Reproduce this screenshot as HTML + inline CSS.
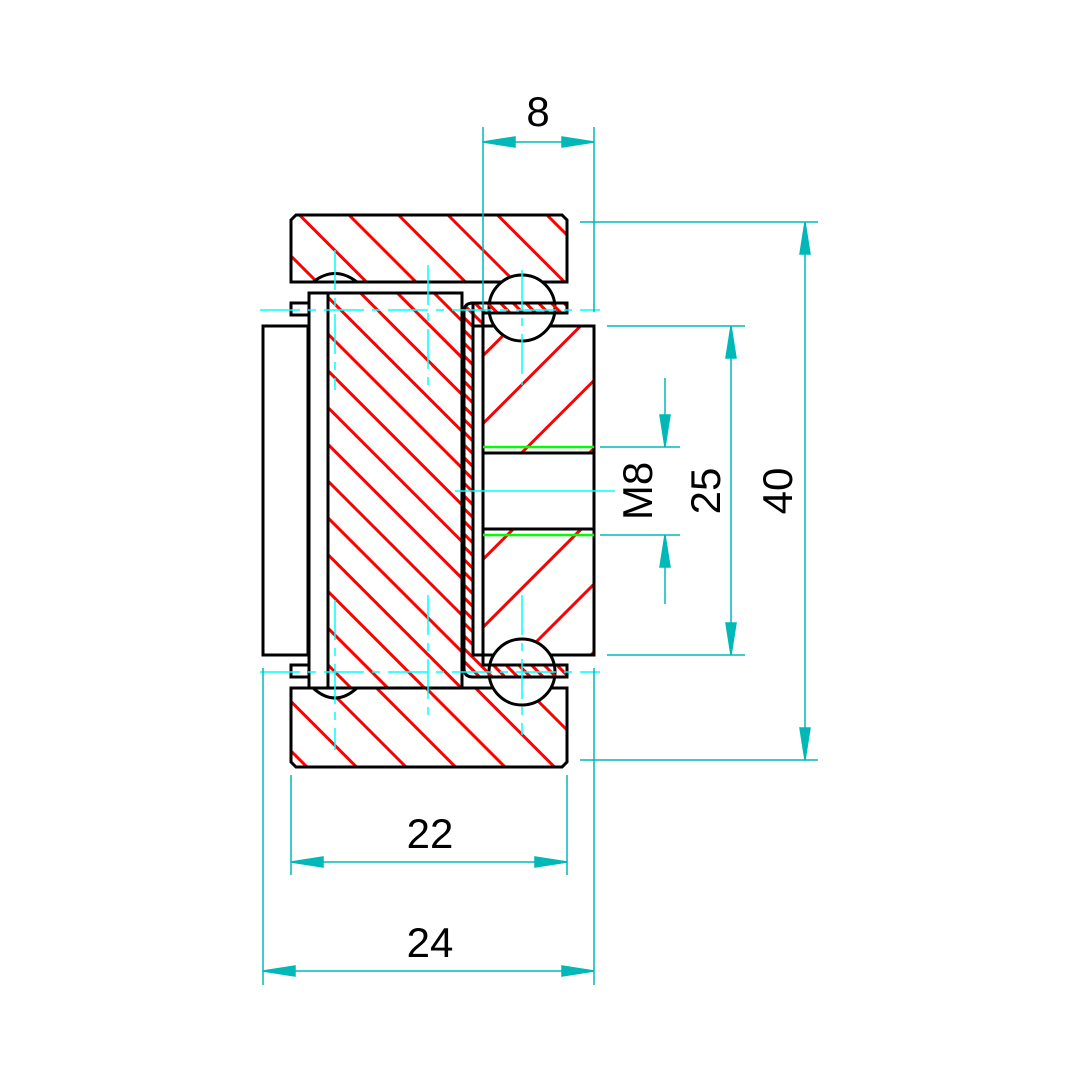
<!DOCTYPE html>
<html><head><style>body{margin:0;background:#fff}svg{display:block}</style></head><body>
<svg width="1080" height="1080" viewBox="0 0 1080 1080" xmlns="http://www.w3.org/2000/svg" font-family="Liberation Sans, sans-serif">
<defs>
<pattern id="hA" patternUnits="userSpaceOnUse" width="35" height="35" patternTransform="rotate(-45 291 215)"><line x1="17" y1="0" x2="17" y2="35" stroke="#f00" stroke-width="3"/></pattern>
<pattern id="hB" patternUnits="userSpaceOnUse" width="26" height="26" patternTransform="rotate(-45 328 293)"><line x1="13" y1="0" x2="13" y2="26" stroke="#f00" stroke-width="3"/></pattern>
<pattern id="hC" patternUnits="userSpaceOnUse" width="48" height="48" patternTransform="rotate(45 483 326)"><line x1="24" y1="0" x2="24" y2="48" stroke="#f00" stroke-width="3"/></pattern>
<pattern id="hD" patternUnits="userSpaceOnUse" width="9" height="9" patternTransform="rotate(-45 0 0)"><line x1="4.5" y1="0" x2="4.5" y2="9" stroke="#f00" stroke-width="3"/></pattern>
</defs>
<g stroke="#000" stroke-width="3">
<path d="M296 215 H562 L567 220 V282 H291 V220 Z" fill="url(#hA)"/>
<path d="M291 688 H567 V762 L562 767 H296 L291 762 Z" fill="url(#hA)"/>
<rect x="263" y="326" width="45" height="329" fill="#fff"/>
<rect x="291" y="303" width="20" height="12" fill="#fff"/>
<rect x="291" y="665" width="20" height="12" fill="#fff"/>
<path d="M313 282 Q335 265 357 282 Z" fill="#fff"/>
<path d="M313 688 Q335 708 357 688 Z" fill="#fff"/>
<rect x="309" y="293" width="19" height="395" fill="#fff"/>
<rect x="328" y="293" width="134" height="395" fill="url(#hB)"/>
<rect x="483" y="326" width="111" height="329" fill="url(#hC)"/>
<rect x="483" y="453" width="111" height="76" fill="#fff"/>
<circle cx="522" cy="308" r="33" fill="#fff"/>
<circle cx="522" cy="672" r="33" fill="#fff"/>
<path d="M473 303 H567 V313 H483 V326 H473 Z" fill="url(#hD)"/>
<path d="M473 303 Q464 303 464 312 V668 Q464 677 473 677 H567 V665 H483 V655 H473 Z" fill="url(#hD)"/>
</g>
<line x1="483" y1="447" x2="594" y2="447" stroke="#0f0" stroke-width="2.5"/>
<line x1="483" y1="535" x2="594" y2="535" stroke="#0f0" stroke-width="2.5"/>
<g stroke="#0ff" stroke-width="1.5" stroke-dasharray="40 8 8 8">
<line x1="335" y1="250" x2="335" y2="390"/><line x1="335" y1="600" x2="335" y2="750"/>
<line x1="428" y1="265" x2="428" y2="385"/><line x1="428" y1="595" x2="428" y2="715"/>
<line x1="522" y1="270" x2="522" y2="385"/><line x1="522" y1="595" x2="522" y2="735"/>
<line x1="260" y1="310" x2="600" y2="310"/><line x1="260" y1="672" x2="600" y2="672"/>
</g>
<line x1="455" y1="491" x2="615" y2="491" stroke="#0ff" stroke-width="1.5"/>
<g stroke="#00b8b8" stroke-width="1.5" fill="#00b8b8">
<line x1="483" y1="127" x2="483" y2="310"/><line x1="594" y1="127" x2="594" y2="312"/>
<line x1="483" y1="142" x2="594" y2="142"/>
<path d="M483 142l32-5v10z M594 142l-32-5v10z"/>
<line x1="580" y1="222" x2="818" y2="222"/><line x1="580" y1="760" x2="818" y2="760"/>
<line x1="805" y1="222" x2="805" y2="760"/>
<path d="M805 222l-5 32h10z M805 760l-5-32h10z"/>
<line x1="607" y1="326" x2="745" y2="326"/><line x1="607" y1="655" x2="745" y2="655"/>
<line x1="731" y1="326" x2="731" y2="655"/>
<path d="M731 326l-5 32h10z M731 655l-5-32h10z"/>
<line x1="600" y1="447" x2="680" y2="447"/><line x1="600" y1="535" x2="680" y2="535"/>
<line x1="665" y1="378" x2="665" y2="447"/><line x1="665" y1="535" x2="665" y2="604"/>
<path d="M665 447l-5-32h10z M665 535l-5 32h10z"/>
<line x1="291" y1="775" x2="291" y2="875"/><line x1="567" y1="775" x2="567" y2="875"/>
<line x1="291" y1="862" x2="567" y2="862"/>
<path d="M291 862l32-5v10z M567 862l-32-5v10z"/>
<line x1="263" y1="668" x2="263" y2="985"/><line x1="594" y1="668" x2="594" y2="985"/>
<line x1="263" y1="971" x2="594" y2="971"/>
<path d="M263 971l32-5v10z M594 971l-32-5v10z"/>
</g>
<g font-size="42" fill="#000" text-anchor="middle">
<text x="538" y="126">8</text>
<text x="430" y="848">22</text>
<text x="430" y="957">24</text>
<text transform="translate(652 491) rotate(-90)">M8</text>
<text transform="translate(720 491) rotate(-90)">25</text>
<text transform="translate(792 491) rotate(-90)">40</text>
</g>
</svg>
</body></html>
